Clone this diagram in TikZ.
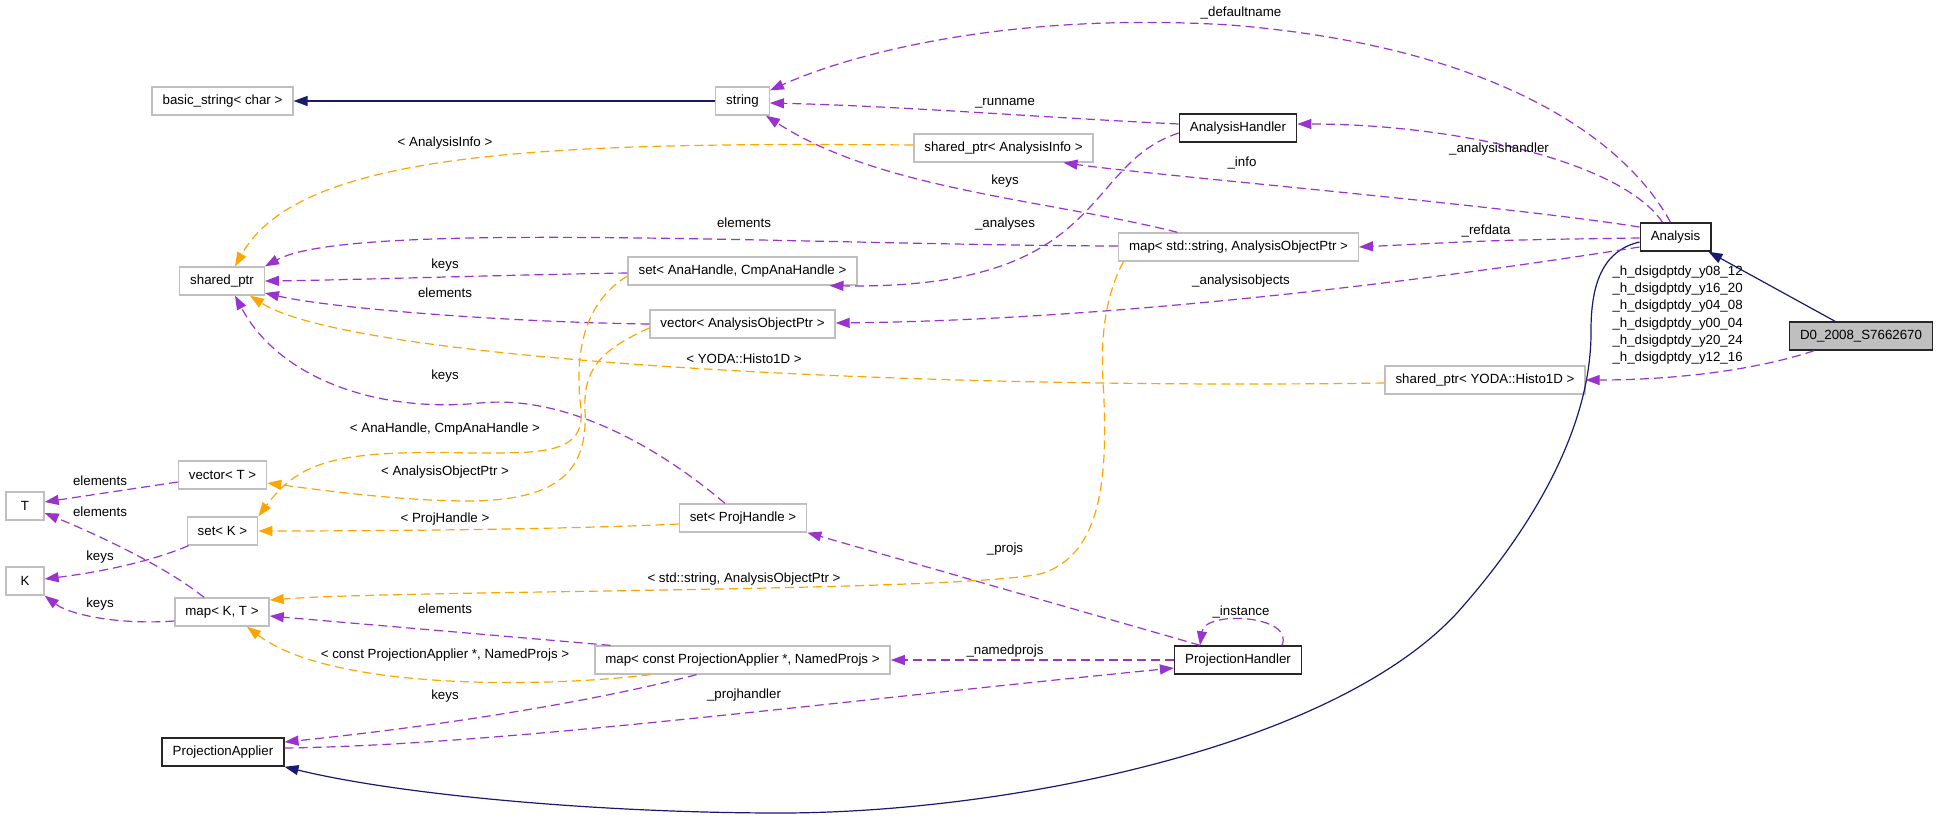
\documentclass[tikz,border=0pt]{standalone}
\usepackage{fontspec}
\setmainfont{Liberation Sans}
\usepackage{xcolor}
\definecolor{mypurple}{HTML}{9A32CD}
\definecolor{myorange}{HTML}{FFA500}
\definecolor{mynavy}{HTML}{191970}
\definecolor{mygray}{HTML}{BFBFBF}
\usepackage{tikz}
\usetikzlibrary{
    arrows.meta,
    positioning
}
\tikzstyle{usage} = [
    draw=mypurple,
    line width=1.2pt,
    dash pattern=on 9pt off 5pt,
    -{Triangle[length=14pt,width=10pt]}
]
\tikzstyle{templ} = [
    usage,
    draw=myorange
]
\tikzstyle{inh} = [
    draw=mynavy,
    line width=1.2pt,
    -{Triangle[length=14pt,width=10pt]}
]

\begin{document}
\begin{tikzpicture}[
  x=1pt, y=-1pt,
  every node/.style={font=\fontsize{13.3}{17.3}\selectfont},
  cls/.style={draw=mygray, line width=1.3pt, fill=white, minimum height=28pt, inner xsep=10.5pt, inner ysep=0pt},
  doc/.style={cls, draw=black!85, line width=1.5pt},
  root/.style={doc, fill=mygray},
  lbl/.style={inner sep=0pt, align=center}
]
\useasboundingbox (0,0) rectangle (1936,820);

% classes
\node[cls] (bstr) at (222.5,101) {basic\_string< char >};
\node[cls] (str) at (742.5,101) {string};
\node[cls] (shp) at (222,281) {shared\_ptr};
\node[doc] (ahnd) at (1238,128) {AnalysisHandler};
\node[cls] (shpinfo) at (1003.5,148) {shared\_ptr< AnalysisInfo >};
\node[cls] (mapstr) at (1238.5,247) {map< std::string, AnalysisObjectPtr >};
\node[cls] (setana) at (742.5,271) {set< AnaHandle, CmpAnaHandle >};
\node[doc] (anl) at (1675.5,237) {Analysis};
\node[root] (d0) at (1861,336) {D0\_2008\_S7662670};
\node[cls] (shphist) at (1485,380) {shared\_ptr< YODA::Histo1D >};
\node[cls] (vecaop) at (742.5,324) {vector< AnalysisObjectPtr >};
\node[cls] (vect) at (222.5,475) {vector< T >};
\node[cls, minimum width=38pt] (tt) at (25,506) {T};
\node[cls] (setk) at (222.5,531) {set< K >};
\node[cls] (setph) at (743,518) {set< ProjHandle >};
\node[cls, minimum width=38pt] (kk) at (25,581) {K};
\node[cls] (mapkt) at (222,612) {map< K, T >};
\node[cls] (mapcpa) at (742.5,660) {map< const ProjectionApplier *, NamedProjs >};
\node[doc] (pa) at (223,752) {ProjectionApplier};
\node[doc] (ph) at (1238,660) {ProjectionHandler};

% inheritance
\draw[inh] (str.west) -- (bstr.east);
\draw[inh] ([xshift=-26pt]d0.north) -- ([xshift=33pt]anl.south);
\draw[inh] ([yshift=-5pt]anl.west) .. controls (1605,250) and (1591,280) .. (1591,330)
  .. controls (1592,420) and (1540,520) .. (1457,613)
  .. controls (1330,750) and (1000,813) .. (780,813)
  .. controls (600,813) and (400,795) .. (pa.south east);

% members
\draw[usage] ([xshift=-5pt]anl.north) .. controls (1620,130) and (1480,45) .. (1230,25)
  .. controls (1020,12) and (860,50) .. ([yshift=-4pt]str.north east);
\draw[usage] ([yshift=4pt]ahnd.west) .. controls (1050,118) and (900,106) .. ([yshift=-2pt]str.east);
\draw[usage] ([xshift=-13pt]anl.north) .. controls (1620,160) and (1450,124) .. ([yshift=4pt]ahnd.east);
\draw[usage] ([yshift=10pt]anl.west) .. controls (1500,205) and (1150,175) .. ([xshift=60pt]shpinfo.south);
\draw[usage] ([xshift=-61pt]mapstr.north) .. controls (1050,200) and (880,190) .. ([xshift=-4pt]str.south east);
\draw[usage] ([yshift=1pt]mapstr.west) .. controls (800,245) and (350,220) .. (shp.north east);
\draw[usage] ([yshift=-5pt]ahnd.west) .. controls (1080,165) and (1110,290) .. ([xshift=87pt]setana.south);
\draw[usage] ([yshift=-1pt]anl.west) .. controls (1500,240) .. (mapstr.east);
\draw[usage] ([yshift=-2pt]setana.west) .. controls (500,275) and (350,280) .. (shp.east);
\draw[usage] (vecaop.west) .. controls (500,322) and (330,308) .. ([yshift=-12pt]shp.east);
\draw[usage] ([yshift=-10pt]anl.west) .. controls (1400,285) and (1100,320) .. ([yshift=1pt]vecaop.east);
\draw[usage] ([xshift=-47pt]d0.south) .. controls (1740,375) and (1650,380) .. (shphist.east);
\draw[usage] ([xshift=-18pt]setph.north) .. controls (650,440) and (560,395) .. (480,403)
  .. controls (380,413) and (280,380) .. ([xshift=13pt]shp.south);
\draw[usage] ([yshift=-7pt]vect.west) -- ([yshift=4pt]tt.east);
\draw[usage] ([xshift=-18pt]mapkt.north) .. controls (170,570) and (110,540) .. ([yshift=-7pt]tt.east);
\draw[usage] ([xshift=-34pt]setk.south) .. controls (150,562) and (100,572) .. ([yshift=2pt]kk.east);
\draw[usage] ([yshift=-9pt]mapkt.west) .. controls (120,625) and (70,615) .. (kk.south east);
\draw[usage] ([xshift=-132pt]mapcpa.north) -- ([yshift=-4pt]mapkt.east);
\draw[usage] (ph.west) -- (mapcpa.east);
\draw[usage] ([xshift=-38pt]ph.north) -- (setph.south east);
\draw[usage] ([xshift=44pt]ph.north) .. controls (1295,615) and (1205,610) .. ([xshift=-38pt]ph.north);
\draw[usage] ([xshift=-46pt]mapcpa.south) .. controls (600,700) and (450,725) .. ([yshift=10pt]pa.east);
\draw[usage] ([yshift=4pt]pa.east) .. controls (500,745) and (800,705) .. ([yshift=-8pt]ph.west);

% templates
\draw[templ] ([yshift=3pt]shpinfo.west) .. controls (550,142) and (300,150) .. ([xshift=13pt]shp.north);
\draw[templ] ([yshift=-3pt]shphist.west) .. controls (900,390) and (350,360) .. ([xshift=28pt]shp.south);
\draw[templ] ([yshift=-5pt]setana.west) .. controls (580,305) and (575,360) .. (581,410)
  .. controls (585,455) and (540,453) .. (470,453)
  .. controls (340,450) and (300,460) .. (setk.north east);
\draw[templ] ([yshift=-4pt]vecaop.west) .. controls (600,350) and (583,370) .. (585,410)
  .. controls (588,470) and (560,500) .. (470,501)
  .. controls (400,501) and (320,490) .. ([yshift=-8pt]vect.east);
\draw[templ] ([yshift=-6pt]setph.west) .. controls (550,530) and (350,531) .. (setk.east);
\draw[templ] ([xshift=-115pt]mapstr.south) .. controls (1108,290) and (1100,330) .. (1103,380)
  .. controls (1108,470) and (1105,555) .. (1040,574)
  .. controls (950,592) and (400,590) .. ([yshift=12pt]mapkt.east);
\draw[templ] ([xshift=-92pt]mapcpa.south) .. controls (540,688) and (330,690) .. ([xshift=25pt]mapkt.south);

% labels
\node[lbl] (lDef) at (1241,13) {\_defaultname};
\node[lbl] (lRun) at (1005,103) {\_runname};
\node[lbl] (lAH) at (1499,149) {\_analysishandler};
\node[lbl] (lAI) at (445,143) {< AnalysisInfo >};
\node[lbl] (lInfo) at (1242,163) {\_info};
\node[lbl] (lKeysStr) at (1005,181) {keys};
\node[lbl] (lElMap) at (744,223) {elements};
\node[lbl] (lAnas) at (1005,224) {\_analyses};
\node[lbl] (lRef) at (1486,231) {\_refdata};
\node[lbl] (lKeysSet) at (445,265) {keys};
\node[lbl] (lAObj) at (1241,281) {\_analysisobjects};
\node[lbl] (lElVec) at (445,293) {elements};
\node[lbl] (lHisto) at (1677.6,315) {\_h\_dsigdptdy\_y08\_12\\\_h\_dsigdptdy\_y16\_20\\\_h\_dsigdptdy\_y04\_08\\\_h\_dsigdptdy\_y00\_04\\\_h\_dsigdptdy\_y20\_24\\\_h\_dsigdptdy\_y12\_16};
\node[lbl] (lYoda) at (744,359) {< YODA::Histo1D >};
\node[lbl] (lKeysPH) at (445,376) {keys};
\node[lbl] (lAnaCmp) at (445,429) {< AnaHandle, CmpAnaHandle >};
\node[lbl] (lAOP) at (445,472) {< AnalysisObjectPtr >};
\node[lbl] (lElT1) at (100,481) {elements};
\node[lbl] (lElT2) at (100,512) {elements};
\node[lbl] (lPH) at (445,519) {< ProjHandle >};
\node[lbl] (lProjs) at (1005,549) {\_projs};
\node[lbl] (lKeysK1) at (100,557) {keys};
\node[lbl] (lStdStr) at (744,579) {< std::string, AnalysisObjectPtr >};
\node[lbl] (lKeysK2) at (100,604) {keys};
\node[lbl] (lElKT) at (445,609) {elements};
\node[lbl] (lInst) at (1241,612) {\_instance};
\node[lbl] (lNamed) at (1005,651) {\_namedprojs};
\node[lbl] (lCPA) at (445,655) {< const ProjectionApplier *, NamedProjs >};
\node[lbl] (lPHnd) at (744,695) {\_projhandler};
\node[lbl] (lKeysPA) at (445,696) {keys};

\end{tikzpicture}
\end{document}
